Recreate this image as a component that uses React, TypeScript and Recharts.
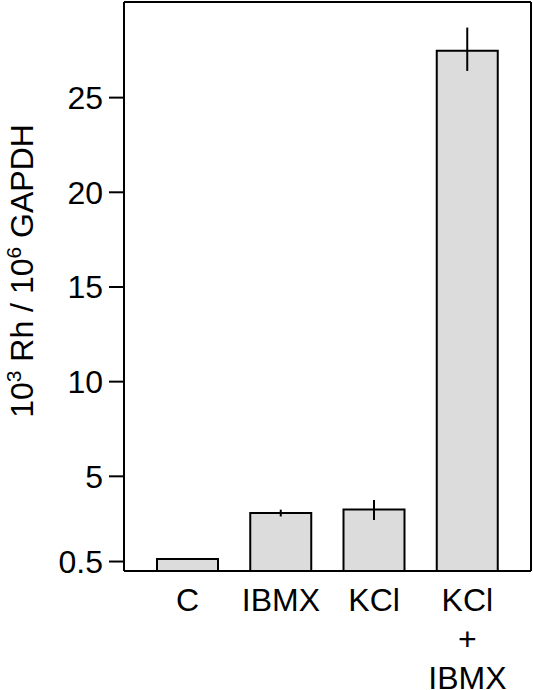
import { Bar, ComposedChart, ErrorBar, Line, XAxis, YAxis } from "recharts"

const categories = ["C", "IBMX", "KCl", "KCl\n+\nIBMX"]
const means = [0.63, 3.06, 3.25, 27.47]
const errLow = [0, 0.18, 0.55, 1.06]
const errHigh = [0, 0.18, 0.5, 1.23]
const yTicks = [0.5, 5, 10, 15, 20, 25]
const yMax = 30.05

const data = categories.map((name, i) => ({
  name,
  value: means[i],
  err: [errLow[i], errHigh[i]],
}))

const font = "'Liberation Sans', Arial, Helvetica, sans-serif"

function XTick(props: any) {
  const { x, y, payload } = props
  const lines = String(payload.value).split("\n")
  return (
    <text x={x} y={y} textAnchor="middle" fill="#000" fontSize={32} fontFamily={font}>
      {lines.map((line, i) => (
        <tspan key={i} x={x} dy={i === 0 ? 40 : 39}>
          {line}
        </tspan>
      ))}
    </text>
  )
}

function YTitle(props: any) {
  const vb = props.viewBox || { x: 0, y: 0 }
  const x = vb.x + 33
  const y = vb.y + 269
  return (
    <text
      x={x}
      y={y}
      textAnchor="middle"
      fill="#000"
      fontSize={32}
      fontFamily={font}
      transform={`rotate(-90, ${x}, ${y})`}
    >
      10
      <tspan fontSize={21} dy={-12}>3</tspan>
      <tspan fontSize={32} dy={12}> Rh / 10</tspan>
      <tspan fontSize={21} dy={-12}>6</tspan>
      <tspan fontSize={32} dy={12}> GAPDH</tspan>
    </text>
  )
}

export default function App() {
  return (
    <div style={{ position: "absolute", left: 0, top: 0, background: "#fff" }}>
      <ComposedChart
        width={533}
        height={690}
        data={data}
        margin={{ top: 0, right: 0, bottom: 0, left: 0 }}
      >
        <XAxis
          dataKey="name"
          height={119}
          padding={{ left: 17, right: 17 }}
          axisLine={{ stroke: "#000", strokeWidth: 2 }}
          tickLine={false}
          tickSize={0}
          tickMargin={0}
          interval={0}
          tick={<XTick />}
        />
        <XAxis
          xAxisId="top"
          dataKey="name"
          orientation="top"
          height={2}
          axisLine={{ stroke: "#000", strokeWidth: 2 }}
          tickLine={false}
          tick={false}
        />
        <YAxis
          width={124}
          type="number"
          domain={[0, yMax]}
          ticks={yTicks}
          interval={0}
          allowDataOverflow
          axisLine={{ stroke: "#000", strokeWidth: 2 }}
          tickLine={{ stroke: "#000", strokeWidth: 2 }}
          tickSize={15}
          tickMargin={6}
          tick={{ fill: "#000", fontSize: 32, fontFamily: font }}
          label={<YTitle />}
        />
        <YAxis
          yAxisId="right"
          orientation="right"
          width={2}
          type="number"
          domain={[0, yMax]}
          allowDataOverflow
          axisLine={{ stroke: "#000", strokeWidth: 2 }}
          tickLine={false}
          tick={false}
        />
        <Bar
          dataKey="value"
          fill="#dcdcdc"
          stroke="#000"
          strokeWidth={2}
          barSize={61}
          isAnimationActive={false}
        >
          <ErrorBar
            dataKey="err"
            width={0}
            stroke="#000"
            strokeWidth={2}
            isAnimationActive={false}
          />
        </Bar>
        {/* invisible series so the frame axes (top, right) get drawn */}
        <Line
          xAxisId="top"
          yAxisId="right"
          dataKey="value"
          stroke="none"
          dot={false}
          activeDot={false}
          legendType="none"
          isAnimationActive={false}
        />
      </ComposedChart>
    </div>
  )
}
